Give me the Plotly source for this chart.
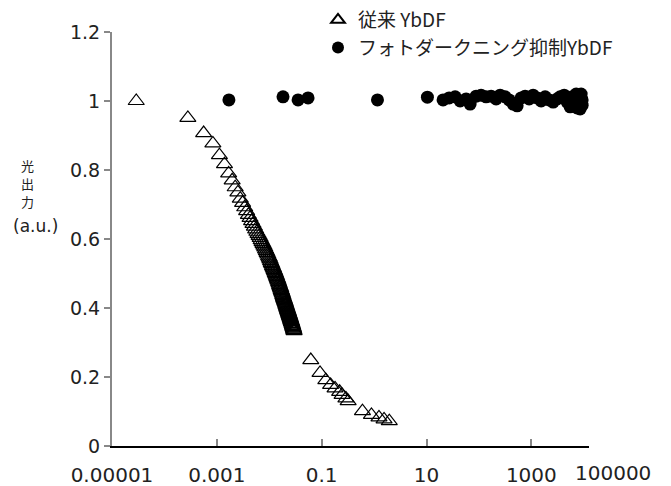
import plotly.graph_objects as go

# ---- data: 従来 YbDF (open triangles) ----
conv_x = [0.000029, 0.00028, 0.00056, 0.00084,
          0.00112, 0.0014, 0.00168, 0.00196, 0.00224, 0.00252,
          0.0028, 0.0031, 0.0034, 0.0037, 0.004, 0.0043, 0.0046, 0.0049, 0.0052, 0.0055,
          0.0058, 0.0061, 0.0064, 0.0067, 0.007, 0.0073, 0.0076, 0.0079, 0.0082, 0.0085,
          0.0088, 0.0091, 0.0094, 0.0097, 0.01, 0.0103, 0.0106, 0.0109, 0.0112, 0.0115,
          0.0118, 0.0121, 0.0124, 0.0127, 0.013, 0.0133, 0.0136, 0.0139, 0.0142, 0.0145,
          0.0148, 0.0151, 0.0154, 0.0157, 0.016, 0.0163, 0.0166, 0.0169, 0.0172, 0.0175,
          0.0178, 0.0181, 0.0184, 0.0187, 0.019, 0.0193, 0.0196, 0.0199, 0.0202, 0.0205,
          0.0208, 0.0211, 0.0214, 0.0217, 0.022, 0.0223, 0.0226, 0.0229, 0.0232, 0.0235,
          0.0238, 0.0241, 0.0244, 0.0247, 0.025, 0.0253, 0.0256, 0.0259, 0.0262, 0.0265,
          0.0268, 0.0271, 0.0274, 0.0277, 0.028, 0.0283, 0.0286, 0.0289, 0.0292, 0.0295,
          0.0298,
          0.062, 0.093, 0.12, 0.148, 0.18, 0.22, 0.245, 0.29, 0.32,
          0.6, 0.89, 1.24, 1.55, 1.95]
conv_y = [1.0, 0.951, 0.907, 0.877,
          0.843, 0.817, 0.790, 0.770, 0.750, 0.735,
          0.717, 0.705, 0.692, 0.681, 0.670, 0.661, 0.652, 0.644, 0.636, 0.628,
          0.621, 0.615, 0.609, 0.603, 0.597, 0.591, 0.586, 0.581, 0.576, 0.570,
          0.565, 0.560, 0.555, 0.550, 0.546, 0.541, 0.536, 0.531, 0.527, 0.522,
          0.518, 0.514, 0.510, 0.506, 0.502, 0.498, 0.494, 0.490, 0.486, 0.482,
          0.479, 0.475, 0.471, 0.467, 0.463, 0.460, 0.456, 0.452, 0.449, 0.445,
          0.442, 0.438, 0.435, 0.431, 0.428, 0.425, 0.422, 0.419, 0.416, 0.413,
          0.410, 0.407, 0.404, 0.401, 0.398, 0.395, 0.393, 0.390, 0.388, 0.385,
          0.382, 0.380, 0.377, 0.375, 0.372, 0.370, 0.367, 0.365, 0.362, 0.360,
          0.358, 0.355, 0.353, 0.350, 0.348, 0.345, 0.343, 0.341, 0.338, 0.336,
          0.333,
          0.249, 0.212, 0.191, 0.177, 0.167, 0.157, 0.148, 0.138, 0.130,
          0.101, 0.090, 0.083, 0.077, 0.072]

# ---- data: フォトダークニング抑制YbDF (filled circles) ----
supp_x = [0.0017, 0.0183, 0.0355, 0.055, 1.16, 10.4,
          20.7, 27.0, 35.2, 43.8, 57.0, 67.9, 88.5, 110, 137, 171, 213, 254, 316, 377,
          450, 536, 638, 762, 908, 1082, 1291, 1538, 1833, 2188, 2606, 3105, 3548, 4227,
          4822, 5495, 6012, 6561, 7161, 7482, 7816, 8166, 8531, 8531, 8913, 8913, 9311, 9311]
supp_y = [1.003, 1.012, 1.003, 1.009, 1.003, 1.011,
          1.003, 1.009, 1.012, 1.000, 1.006, 0.991, 1.014, 1.017, 1.012, 1.014, 1.006, 1.017, 1.012, 1.003,
          0.991, 0.986, 1.009, 1.014, 1.006, 1.017, 1.009, 1.000, 1.012, 1.003, 0.997, 1.006, 1.012, 1.017,
          0.997, 0.983, 1.012, 0.991, 1.020, 0.980, 1.003, 1.014, 0.994, 0.977, 1.009, 1.020, 0.988, 1.003]

legend_names = ["従来 YbDF", "フォトダークニング抑制YbDF"]

x_tick_vals = [1e-5, 1e-3, 1e-1, 10, 1000, 10 ** 4.1]
x_tick_text = ["0.00001", "0.001", "0.1", "10", "1000", ""]
x_end_label = "100000"
y_tick_vals = [0, 0.2, 0.4, 0.6, 0.8, 1.0, 1.2]
y_tick_text = ["0", "0.2", "0.4", "0.6", "0.8", "1", "1.2"]
y_label_chars = ["光", "出", "力"]
y_label_unit = "(a.u.)"

TXT = "#222222"
NUM_FONT = "DejaVu Sans, Noto Sans CJK JP"
CJK_FONT = "Noto Sans CJK JP, DejaVu Sans"

fig = go.Figure()
fig.add_trace(go.Scatter(
    x=conv_x, y=conv_y, mode="markers", name=legend_names[0],
    marker=dict(symbol="triangle-up-open", size=14, color="black",
                line=dict(color="black", width=1.2)),
))
fig.add_trace(go.Scatter(
    x=supp_x, y=supp_y, mode="markers", name=legend_names[1],
    marker=dict(symbol="circle", size=13, color="black", line=dict(width=0)),
))

fig.update_xaxes(
    type="log", range=[-5, 4.1],
    tickvals=x_tick_vals, ticktext=x_tick_text,
    ticks="inside", ticklen=7, tickwidth=1.5, tickcolor="#888888",
    showline=True, linecolor="black", linewidth=1.5,
    showgrid=False, zeroline=False, automargin=False,
    tickfont=dict(family=NUM_FONT, size=20, color=TXT),
    ticklabelstandoff=10,
)
fig.update_yaxes(
    range=[0, 1.2],
    tickvals=y_tick_vals, ticktext=y_tick_text,
    ticks="outside", ticklen=6, tickwidth=1.5, tickcolor="#888888",
    showline=True, linecolor="#888888", linewidth=2,
    showgrid=False, zeroline=False, automargin=False,
    tickfont=dict(family=NUM_FONT, size=19, color=TXT),
)

ann = []
for ch, py in zip(y_label_chars, [165.5, 183.5, 201.5]):
    ann.append(dict(text=ch, xref="paper", yref="paper",
                    x=(27 - 112) / 477, y=(446 - py) / 414,
                    showarrow=False, xanchor="center", yanchor="middle",
                    font=dict(family=CJK_FONT, size=13, color=TXT)))
ann.append(dict(text=y_label_unit, xref="paper", yref="paper",
                x=(35 - 112) / 477, y=(446 - 226) / 414,
                showarrow=False, xanchor="center", yanchor="middle",
                font=dict(family=NUM_FONT, size=17, color=TXT)))
ann.append(dict(text=x_end_label, xref="paper", yref="paper",
                x=(613 - 112) / 477, y=(446 - 473) / 414,
                showarrow=False, xanchor="center", yanchor="middle",
                font=dict(family=NUM_FONT, size=20, color=TXT)))

fig.update_layout(
    width=671, height=486,
    margin=dict(l=112, r=82, t=32, b=40, autoexpand=False),
    plot_bgcolor="white", paper_bgcolor="white",
    showlegend=True,
    legend=dict(x=(318 - 112) / 477, y=1.075, xanchor="left", yanchor="top",
                bgcolor="rgba(0,0,0,0)", borderwidth=0,
                font=dict(family=CJK_FONT, size=19, color=TXT),
                itemsizing="constant", tracegroupgap=0),
    annotations=ann,
)

fig.write_html("out.html")
